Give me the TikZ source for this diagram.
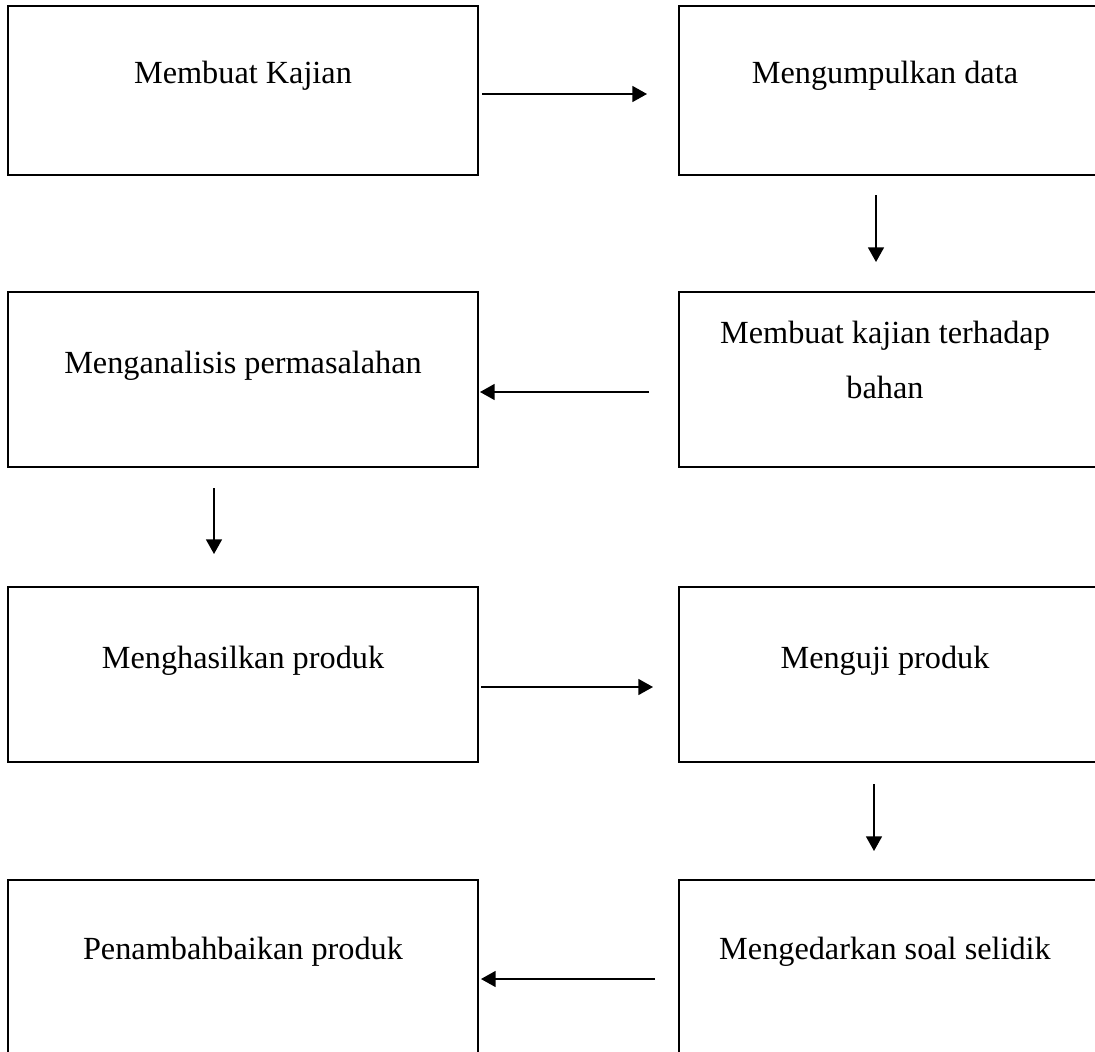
\documentclass[tikz,border=0pt]{standalone}
\usepackage{fontspec}
\setmainfont{Liberation Serif}
\usetikzlibrary{arrows.meta,calc}
\begin{document}
\begin{tikzpicture}[x=0.75pt,y=-0.75pt,
  boxL/.style={draw,line width=1.8pt,rectangle,inner sep=0pt,outer sep=0pt,minimum width=352.5pt},
  boxR/.style={draw,line width=1.8pt,rectangle,inner sep=0pt,outer sep=0pt,minimum width=313.5pt},
  tall/.style={minimum height=131.25pt},
  txt/.style={inner sep=0pt,anchor=base,font={\fontsize{24.2pt}{41.25pt}\selectfont},align=center},
  arr/.style={line width=1.2pt,-{Triangle[length=11pt,width=12pt]}}]
\useasboundingbox (0,0) rectangle (1095,1052);
\clip (0,0) rectangle (1095,1052);
% boxes
\node[boxL,minimum height=127pt] (b1) at (243,90.5) {};
\node[boxR,minimum height=127pt] (b2) at (888,90.5) {};
\node[boxL,tall] (b3) at (243,379.5) {};
\node[boxR,tall] (b4) at (888,379.5) {};
\node[boxL,tall] (b5) at (243,674.5) {};
\node[boxR,tall] (b6) at (888,674.5) {};
\node[boxL,tall] (b7) at (243,967.5) {};
\node[boxR,tall] (b8) at (888,967.5) {};
% texts
\node[txt] (t1) at (243,84) {Membuat Kajian};
\node[txt] (t2) at (885,84) {Mengumpulkan data};
\node[txt] (t3) at (243,373) {Menganalisis permasalahan};
\node[txt] (t4) at (885,398) {Membuat kajian terhadap\\bahan};
\node[txt] (t5) at (243,668) {Menghasilkan produk};
\node[txt] (t6) at (885,668) {Menguji produk};
\node[txt] (t7) at (243,959) {Penambahbaikan produk};
\node[txt] (t8) at (885,959) {Mengedarkan soal selidik};
% arrows
\draw[arr] ($(b1.east)+(4,3.5)$) -- ($(b2.west)+(-32,3.5)$);
\draw[arr] ($(b2.south)+(-12,20)$) -- ($(b4.north)+(-12,-30)$);
\draw[arr] ($(b4.west)+(-30,12.5)$) -- ($(b3.east)+(2,12.5)$);
\draw[arr] ($(b3.south)+(-29,21)$) -- ($(b5.north)+(-29,-33)$);
\draw[arr] ($(b5.east)+(3,12.5)$) -- ($(b6.west)+(-26,12.5)$);
\draw[arr] ($(b6.south)+(-14,22)$) -- ($(b8.north)+(-14,-29)$);
\draw[arr] ($(b8.west)+(-24,11.5)$) -- ($(b7.east)+(3,11.5)$);
\end{tikzpicture}
\end{document}
